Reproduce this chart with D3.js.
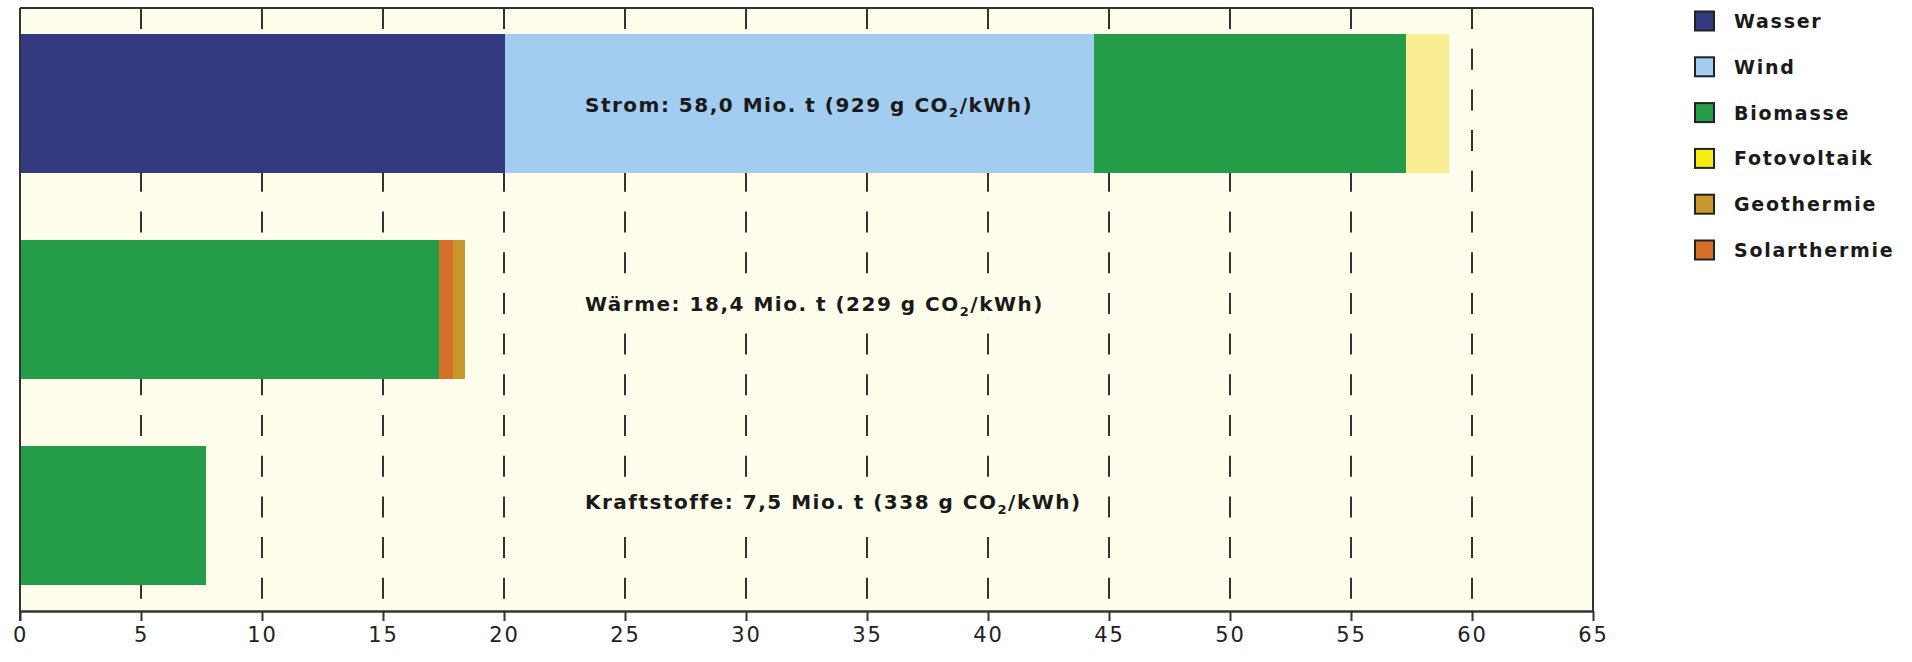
<!DOCTYPE html>
<html><head><meta charset="utf-8">
<script src="https://cdn.jsdelivr.net/npm/d3@7"></script>
<style>body{margin:0;background:#fff}svg{display:block}</style>
</head><body>
<svg id="c" width="1912" height="662"></svg>
<script>
const categories = ["Strom", "Wärme", "Kraftstoffe"];
const seriesNames = ["Wasser", "Wind", "Biomasse", "Fotovoltaik", "Solarthermie", "Geothermie"];
const wasser = [20.03, 0, 0];
const wind = [24.34, 0, 0];
const biomasse = [12.9, 17.33, 7.7];
const fotovoltaik = [1.78, 0, 0];
const solarthermie = [0, 0.57, 0];
const geothermie = [0, 0.49, 0];
const barColors = ["#333a80", "#a2cdf0", "#249c48", "#f9ee94", "#d4702a", "#c9952d"];
const legendNames = ["Wasser", "Wind", "Biomasse", "Fotovoltaik", "Geothermie", "Solarthermie"];
const legendColors = ["#333a80", "#a2cdf0", "#249c48", "#f5ee10", "#c9952d", "#d4702a"];
const labelMain = ["Strom: 58,0 Mio. t (929 g CO", "Wärme: 18,4 Mio. t (229 g CO", "Kraftstoffe: 7,5 Mio. t (338 g CO"];
const tickValues = [0, 5, 10, 15, 20, 25, 30, 35, 40, 45, 50, 55, 60, 65];

const svg = d3.select("#c");
const L = 20, R = 1593, T = 8, B = 611;
const x = d3.scaleLinear().domain([0, 65]).range([L, R]);
const y = d3.scaleBand().domain(categories).range([T, B]).paddingInner(0.325).paddingOuter(0.126);
const bg = "#fffdeb";

// plot background
svg.append("rect").attr("x", x(0)).attr("y", T).attr("width", x(65) - x(0)).attr("height", B - T).attr("fill", bg);

// dashed grid
svg.append("g").selectAll("line").data(tickValues.filter(v => v > 0 && v < 65)).join("line")
  .attr("x1", d => x(d)).attr("x2", d => x(d)).attr("y1", T).attr("y2", B)
  .attr("stroke", "#333").attr("stroke-width", 2).attr("stroke-dasharray", "21,19.7");

// stacked bars
const rows = categories.map((c, i) => ({cat: c, Wasser: wasser[i], Wind: wind[i], Biomasse: biomasse[i], Fotovoltaik: fotovoltaik[i], Solarthermie: solarthermie[i], Geothermie: geothermie[i]}));
const stack = d3.stack().keys(seriesNames)(rows);
svg.append("g").attr("shape-rendering", "crispEdges").selectAll("g").data(stack).join("g")
  .attr("fill", (d, i) => barColors[i])
  .selectAll("rect").data(d => d.filter(p => p[1] - p[0] > 0)).join("rect")
  .attr("x", d => x(d[0])).attr("width", d => x(d[1]) - x(d[0]))
  .attr("y", d => y(d.data.cat)).attr("height", y.bandwidth());
const totals = rows.map(r => seriesNames.reduce((s, k) => s + r[k], 0));

// frame
svg.append("line").attr("x1", L).attr("x2", R).attr("y1", T).attr("y2", T).attr("stroke", "#333").attr("stroke-width", 2);
svg.append("line").attr("x1", R).attr("x2", R).attr("y1", T).attr("y2", B).attr("stroke", "#333").attr("stroke-width", 2);
svg.append("line").attr("x1", L).attr("x2", L).attr("y1", T).attr("y2", B + 10).attr("stroke", "#333").attr("stroke-width", 2);

// x axis
const ax = svg.append("g").attr("transform", `translate(0,${B})`)
  .call(d3.axisBottom(x).tickValues(tickValues).tickSize(10).tickPadding(6).tickSizeOuter(0));
ax.select(".domain").attr("stroke", "#333").attr("stroke-width", 2.5);
ax.selectAll(".tick line").attr("stroke", "#333").attr("stroke-width", 2);
ax.selectAll(".tick text").attr("font-family", "DejaVu Sans").attr("font-size", 21).attr("fill", "#222").attr("letter-spacing", 1.8);

// bar labels
const labelX = 585;
const ly = d3.scaleLinear().domain([0, 2]).range([112, 509]);
const labG = svg.append("g");
const lab = labG.selectAll("text").data(labelMain).join("text")
  .attr("x", labelX).attr("y", (d, i) => ly(i))
  .attr("font-family", "DejaVu Sans").attr("font-weight", "bold").attr("font-size", 20)
  .attr("letter-spacing", 1.5).attr("fill", "#1a1a1a");
lab.append("tspan").text(d => d);
lab.append("tspan").text("2").attr("font-size", 13).attr("dy", 5);
lab.append("tspan").text("/kWh)").attr("dy", -5);
// knock-out background where label sits on the cream plot area
lab.each(function(d, i) {
  if (totals[i] < x.invert(labelX)) {
    const b = this.getBBox();
    labG.insert("rect", "text").attr("x", b.x - 4).attr("y", b.y - 8).attr("width", b.width + 8).attr("height", b.height + 16).attr("fill", bg);
  }
});

// legend
const lg = svg.append("g").selectAll("g").data(legendNames).join("g")
  .attr("transform", (d, i) => `translate(1695,${11.5 + i * 45.8})`);
lg.append("rect").attr("width", 19).attr("height", 19).attr("fill", (d, i) => legendColors[i]).attr("stroke", "#222").attr("stroke-width", 2);
lg.append("text").attr("x", 39).attr("y", 16.5).text(d => d)
  .attr("font-family", "DejaVu Sans").attr("font-weight", "bold").attr("font-size", 19).attr("letter-spacing", 1.75).attr("fill", "#1a1a1a");
</script>
</body></html>
